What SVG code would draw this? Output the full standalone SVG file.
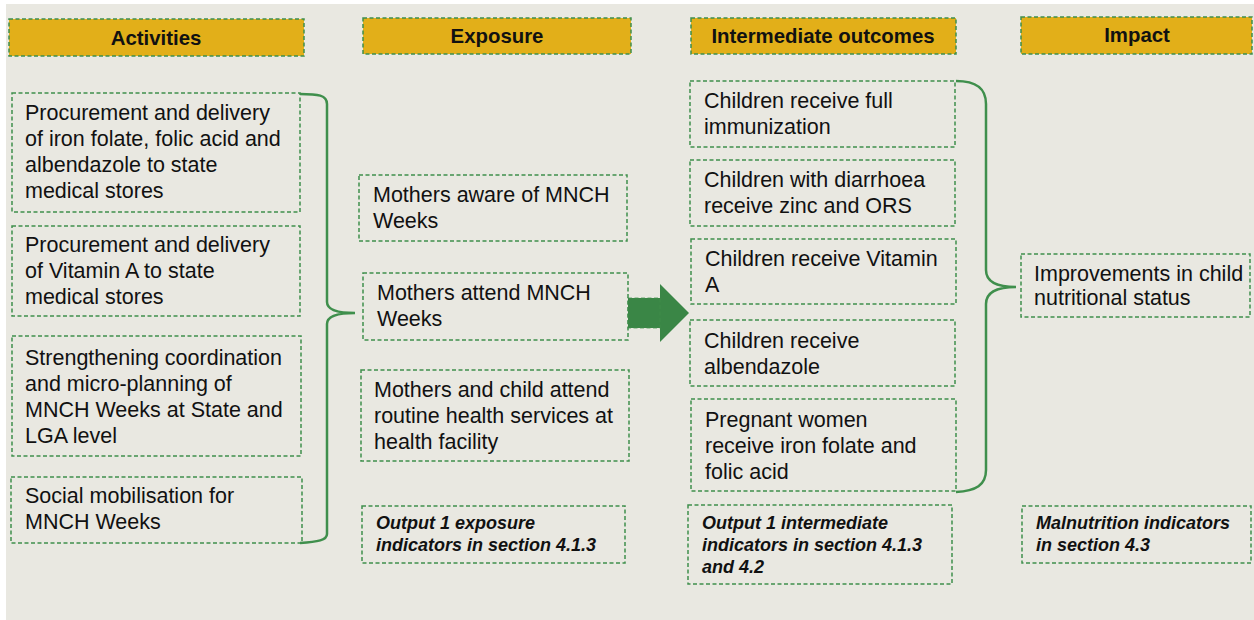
<svg xmlns="http://www.w3.org/2000/svg" width="1254" height="620" viewBox="0 0 1254 620">
<defs>
<style>
.bx{fill:none;stroke:#3f8f4c;stroke-width:1.5;stroke-dasharray:4 2.5}
.hd{fill:#e2af19;stroke:#3f8f4c;stroke-width:1.5;stroke-dasharray:4 2.5}
.ht{font-family:"Liberation Sans",Arial,sans-serif;font-weight:bold;font-size:20.4px;fill:#111;text-anchor:middle}
.t{font-family:"Liberation Sans",Arial,sans-serif;font-size:21.5px;fill:#111}
.it{font-family:"Liberation Sans",Arial,sans-serif;font-size:18px;font-weight:bold;font-style:italic;fill:#111}
.br{fill:none;stroke:#3f8f4c;stroke-width:2.5}
</style>
</defs>
<rect x="0" y="0" width="1254" height="620" fill="#ffffff"/>
<rect x="6" y="4" width="1248" height="616" fill="#e9e8e1"/>

<g id="h-activities"><rect class="hd" x="9" y="19" width="295" height="37"/><text class="ht" x="156" y="45">Activities</text></g>
<g id="h-exposure"><rect class="hd" x="363" y="18" width="268" height="36"/><text class="ht" x="497" y="43">Exposure</text></g>
<g id="h-intermediate"><rect class="hd" x="691" y="18" width="265" height="36"/><text class="ht" x="823" y="43">Intermediate outcomes</text></g>
<g id="h-impact"><rect class="hd" x="1021" y="17" width="231" height="37"/><text class="ht" x="1137" y="42">Impact</text></g>

<g id="a1"><rect class="bx" x="12" y="93" width="288" height="119"/><text class="t"><tspan x="25" y="120">Procurement and delivery</tspan><tspan x="25" y="146">of iron folate, folic acid and</tspan><tspan x="25" y="172">albendazole to state</tspan><tspan x="25" y="198">medical stores</tspan></text></g>
<g id="a2"><rect class="bx" x="12" y="226" width="288" height="90"/><text class="t"><tspan x="25" y="252">Procurement and delivery</tspan><tspan x="25" y="278">of Vitamin A to state</tspan><tspan x="25" y="304">medical stores</tspan></text></g>
<g id="a3"><rect class="bx" x="12" y="336" width="289" height="120"/><text class="t"><tspan x="25" y="365">Strengthening coordination</tspan><tspan x="25" y="391">and micro-planning of</tspan><tspan x="25" y="417">MNCH Weeks at State and</tspan><tspan x="25" y="443">LGA level</tspan></text></g>
<g id="a4"><rect class="bx" x="11" y="477" width="291" height="66"/><text class="t"><tspan x="25" y="503">Social mobilisation for</tspan><tspan x="25" y="529">MNCH Weeks</tspan></text></g>

<g id="e1"><rect class="bx" x="359" y="175" width="268" height="66"/><text class="t"><tspan x="373" y="202">Mothers aware of MNCH</tspan><tspan x="373" y="228">Weeks</tspan></text></g>
<g id="e2"><rect class="bx" x="363" y="273" width="265" height="67"/><text class="t"><tspan x="377" y="300">Mothers attend MNCH</tspan><tspan x="377" y="326">Weeks</tspan></text></g>
<g id="e3"><rect class="bx" x="361" y="370" width="268" height="91"/><text class="t"><tspan x="374" y="397">Mothers and child attend</tspan><tspan x="374" y="423">routine health services at</tspan><tspan x="374" y="449">health facility</tspan></text></g>
<g id="e-out"><rect class="bx" x="362" y="506" width="263" height="57"/><text class="it"><tspan x="376" y="529">Output 1 exposure</tspan><tspan x="376" y="551">indicators in section 4.1.3</tspan></text></g>

<g id="i1"><rect class="bx" x="690" y="81" width="265" height="66"/><text class="t"><tspan x="704" y="108">Children receive full</tspan><tspan x="704" y="134">immunization</tspan></text></g>
<g id="i2"><rect class="bx" x="690" y="160" width="265" height="66"/><text class="t"><tspan x="704" y="187">Children with diarrhoea</tspan><tspan x="704" y="213">receive zinc and ORS</tspan></text></g>
<g id="i3"><rect class="bx" x="691" y="239" width="265" height="65"/><text class="t"><tspan x="705" y="266">Children receive Vitamin</tspan><tspan x="705" y="292">A</tspan></text></g>
<g id="i4"><rect class="bx" x="690" y="320" width="265" height="66"/><text class="t"><tspan x="704" y="348">Children receive</tspan><tspan x="704" y="374">albendazole</tspan></text></g>
<g id="i5"><rect class="bx" x="691" y="399" width="265" height="92"/><text class="t"><tspan x="705" y="427">Pregnant women</tspan><tspan x="705" y="453">receive iron folate and</tspan><tspan x="705" y="479">folic acid</tspan></text></g>
<g id="i-out"><rect class="bx" x="688" y="505" width="264" height="79"/><text class="it"><tspan x="702" y="529">Output 1 intermediate</tspan><tspan x="702" y="551">indicators in section 4.1.3</tspan><tspan x="702" y="573">and 4.2</tspan></text></g>

<g id="m1"><rect class="bx" x="1021" y="254" width="229" height="63"/><text class="t"><tspan x="1034" y="281">Improvements in child</tspan><tspan x="1034" y="305">nutritional status</tspan></text></g>
<g id="m-out"><rect class="bx" x="1022" y="506" width="229" height="57"/><text class="it"><tspan x="1036" y="529">Malnutrition indicators</tspan><tspan x="1036" y="551">in section 4.3</tspan></text></g>

<g id="connectors">
<path class="br" d="M300,94 C318,94 327,95 327,104 L327,302 C327,309 336,313 355,313 C336,313 327,317 327,324 L327,534 C327,540 318,542 300,543"/>
<path class="br" d="M956,81 C976,81 986,88 986,104 L986,270 C986,282 996,287 1016,287 C996,287 986,292 986,304 L986,470 C986,485 976,491 956,492"/>
<polygon points="628,298 660,298 660,284 689,313 660,342 660,328 628,328" fill="#3a8646"/>
<rect class="bx" x="628" y="298" width="32" height="30" stroke="#e9e8e1" stroke-width="1" opacity="0.5"/>
</g>
</svg>
